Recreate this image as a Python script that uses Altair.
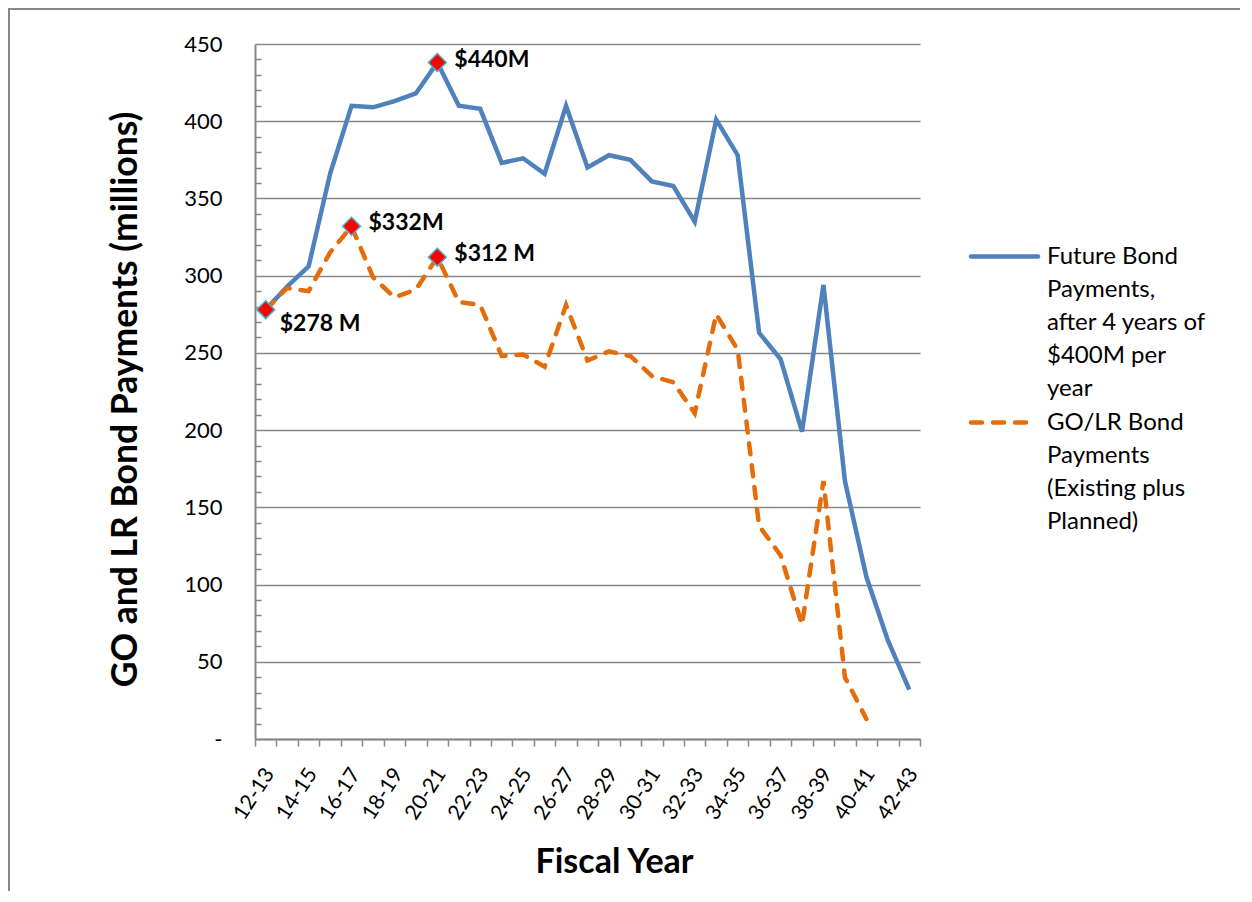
import json
import altair as alt
import pandas as pd

# ---------------- data ----------------
categories = ["12-13", "13-14", "14-15", "15-16", "16-17", "17-18", "18-19", "19-20",
              "20-21", "21-22", "22-23", "23-24", "24-25", "25-26", "26-27", "27-28",
              "28-29", "29-30", "30-31", "31-32", "32-33", "33-34", "34-35", "35-36",
              "36-37", "37-38", "38-39", "39-40", "40-41", "41-42", "42-43"]

future_payments = [278, 293, 306, 366, 410, 409, 413, 418, 438, 410, 408, 373, 376, 366,
                   410, 370, 378, 375, 361, 358, 335, 401, 378, 263, 246, 199, 294, 167,
                   105, 64, 32]

golr_payments = [278, 292, 290, 315, 332, 299, 286, 291, 312, 283, 281, 248, 249, 241,
                 281, 245, 251, 248, 235, 231, 211, 275, 252, 138, 119, 74, 167, 40, 13]

series_names = ["Future Bond Payments, after 4 years of $400M per year",
                "GO/LR Bond Payments (Existing plus Planned)"]

legend_lines_future = ["Future Bond", "Payments,", "after 4 years of", "$400M per", "year"]
legend_lines_golr = ["GO/LR Bond", "Payments", "(Existing plus", "Planned)"]

ann_index = [0, 4, 8, 8]
ann_value = [278, 332, 312, 438]
ann_text = ["$278 M", "$332M", "$312 M", "$440M"]

y_ticks = [0, 50, 100, 150, 200, 250, 300, 350, 400, 450]
y_minor = [v for v in range(10, 450, 10) if v % 50 != 0]

# ---------------- tables ----------------
rows = []
for i, v in enumerate(future_payments):
    rows.append({"idx": i, "fy": categories[i], "value": v, "series": series_names[0]})
for i, v in enumerate(golr_payments):
    rows.append({"idx": i, "fy": categories[i], "value": v, "series": series_names[1]})
df = pd.DataFrame(rows)

ann = pd.DataFrame({"idx": ann_index, "value": ann_value, "label": ann_text})

# ---------------- style ----------------
BLUE = "#4F81BD"
ORANGE = "#E46C0A"
GRAY = "#878787"
FONT = "Lato"
W, H = 665, 695

xscale = alt.Scale(domain=[-0.5, len(categories) - 0.5], nice=False, zero=False)
yscale = alt.Scale(domain=[0, 450], nice=False, zero=True)

label_js = json.dumps(categories)
x_axis = alt.Axis(
    values=[i - 0.5 for i in range(len(categories) + 1)],
    title="Fiscal Year",
    labelExpr=f"((datum.value - 0.5) % 2 == 0) ? ({label_js}[datum.value - 0.5] || '') : ''",
    labelAngle=-57, labelAlign="right", labelBaseline="middle",
    labelFont=FONT, labelFontSize=21, labelColor="black", labelPadding=24, labelOffset=-7,
    labelOverlap=False, labelFlush=False, labelBound=False,
    tickSize=7, tickColor=GRAY, tickWidth=1.5,
    domainColor=GRAY, domainWidth=2, grid=False,
    titleFont=FONT, titleFontSize=34, titleFontWeight="bold", titleColor="black",
    titleX=359, titleY=133, titleAlign="center", titleBaseline="alphabetic",
)

y_axis = alt.Axis(
    values=y_ticks,
    title="GO and LR Bond Payments (millions)",
    labelExpr="datum.value == 0 ? '-\u00a0\u00a0\u00a0' : datum.label",
    labelFont=FONT, labelFontSize=22, labelColor="black", labelPadding=33,
    ticks=False, tickSize=0,
    domainColor=GRAY, domainWidth=2,
    grid=True, gridColor=GRAY, gridWidth=1.5,
    titleFont=FONT, titleFontSize=35.5, titleFontWeight="bold", titleColor="black",
    titleAngle=270, titleX=-119, titleY=355, titleAlign="center", titleBaseline="alphabetic",
)

base = alt.Chart(df)

blue_line = base.transform_filter(alt.datum.series == series_names[0]).mark_line(
    color=BLUE, strokeWidth=4.5
).encode(
    x=alt.X("idx:Q", scale=xscale, axis=x_axis),
    y=alt.Y("value:Q", scale=yscale, axis=y_axis),
)

orange_line = base.transform_filter(alt.datum.series == series_names[1]).mark_line(
    color=ORANGE, strokeWidth=4.5, strokeDash=[11, 11], strokeCap="round"
).encode(
    x=alt.X("idx:Q", scale=xscale, axis=x_axis),
    y=alt.Y("value:Q", scale=yscale),
)

markers = alt.Chart(ann).mark_point(
    shape="diamond", filled=True, fill="#FF0000", stroke="#4BACC6",
    strokeWidth=1.5, size=320, opacity=1
).encode(
    x=alt.X("idx:Q", scale=xscale, axis=x_axis),
    y=alt.Y("value:Q", scale=yscale),
)

ann_main = alt.Chart(ann).transform_filter(alt.datum.idx > 0).mark_text(
    align="left", baseline="middle", dx=17, dy=-3,
    font=FONT, fontSize=23, fontWeight="bold", color="black"
).encode(
    x=alt.X("idx:Q", scale=xscale, axis=x_axis),
    y=alt.Y("value:Q", scale=yscale),
    text="label:N",
)

ann_first = alt.Chart(ann).transform_filter(alt.datum.idx == 0).mark_text(
    align="left", baseline="middle", dx=14, dy=14,
    font=FONT, fontSize=23, fontWeight="bold", color="black"
).encode(
    x=alt.X("idx:Q", scale=xscale, axis=x_axis),
    y=alt.Y("value:Q", scale=yscale),
    text="label:N",
)

one = alt.Data(values=[{"k": 1}])

frame = alt.Chart(one).mark_rect(filled=False, stroke=GRAY, strokeWidth=2).encode(
    x=alt.value(-246), x2=alt.value(1500), y=alt.value(-35), y2=alt.value(1500)
)

leg_blue = alt.Chart(one).mark_rule(color=BLUE, strokeWidth=4.5, strokeCap="round").encode(
    x=alt.value(716), x2=alt.value(783), y=alt.value(212.5)
)
leg_orange = alt.Chart(one).mark_rule(
    color=ORANGE, strokeWidth=4.5, strokeDash=[11, 11], strokeCap="round"
).encode(
    x=alt.value(716), x2=alt.value(776), y=alt.value(378.5)
)
leg_text_blue = alt.Chart(one).mark_text(
    align="left", baseline="middle", font=FONT, fontSize=24, lineHeight=33, color="black"
).encode(x=alt.value(792), y=alt.value(212.5), text=alt.value(legend_lines_future))
leg_text_orange = alt.Chart(one).mark_text(
    align="left", baseline="middle", font=FONT, fontSize=24, lineHeight=33, color="black"
).encode(x=alt.value(792), y=alt.value(378.5), text=alt.value(legend_lines_golr))

main = alt.layer(frame, blue_line, orange_line, markers, ann_main, ann_first,
                 leg_blue, leg_orange, leg_text_blue, leg_text_orange)

minor_ticks = base.transform_filter(alt.datum.series == series_names[0]).mark_point(
    opacity=0
).encode(
    y=alt.Y("value:Q", scale=yscale, axis=alt.Axis(
        orient="left", offset=-6, values=y_minor, labels=False, domain=False,
        grid=False, ticks=True, tickSize=6, tickColor=GRAY, tickWidth=1.5, title=None)),
)

chart = alt.layer(main, minor_ticks).resolve_scale(y="independent").properties(
    width=W, height=H,
    autosize=alt.AutoSizeParams(type="none"),
    padding={"left": 247, "top": 36, "right": 320, "bottom": 152},
    background="white",
).configure_view(stroke=None)

chart.save("out.html", embed_options={"renderer": "svg", "actions": False})
